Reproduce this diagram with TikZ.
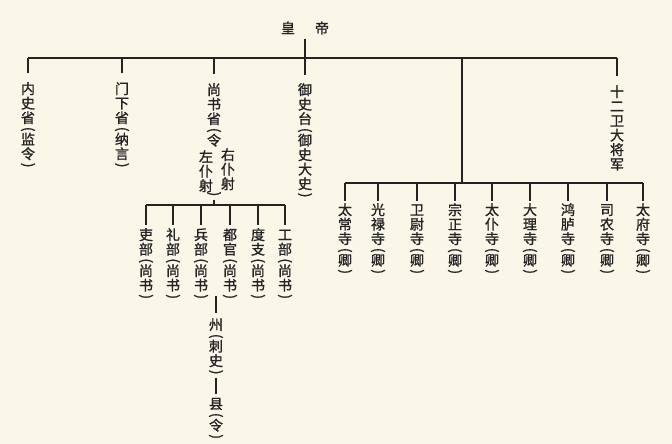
\documentclass[tikz,border=0pt]{standalone}
\usepackage{graphicx}
\usepackage{fontspec}
\newfontfamily\cjk{Noto Sans CJK SC}[FakeBold=1.2]
\definecolor{bg}{RGB}{250,247,233}
\definecolor{ink}{RGB}{35,35,35}
\makeatletter
\newcommand\vcol[1]{\vbox{\offinterlineskip\vc@loop#1\@nil}}
\def\vc@loop#1{\ifx#1\@nil\else\vc@one{#1}\expandafter\vc@loop\fi}
\def\vc@one#1{\if#1(\vc@par{#1}\else\if#1)\vc@par{#1}\else\vc@ch{#1}\fi\fi}
\def\vc@ch#1{\hbox to 14pt{\hss\vrule width 0pt height 11.8pt depth 2.7pt#1\hss}}
\def\vc@par#1{\hbox to 14pt{\hss\vbox to 7pt{\vss\hbox{\rotatebox{-90}{#1}}\vss}\hss}}
\makeatother
\tikzset{
  vt/.style={font=\cjk\fontsize{14}{14}\selectfont, inner sep=0pt, anchor=north, text=ink},
  conn/.style={draw=ink, line width=1.3pt},
}
\begin{document}
\begin{tikzpicture}[x=1pt,y=-1pt]
\useasboundingbox (0,0) rectangle (672,444);
\fill[bg] (0,0) rectangle (672,444);
\node[font=\cjk\fontsize{14}{14}\selectfont, text=ink, inner sep=0pt] (emp) at (305,28) {皇\hspace{20pt}帝};
\node[vt] (n1) at (28,82) {\vcol{内史省(监令)}};
\node[vt] (n2) at (122,82) {\vcol{门下省(纳言)}};
\node[vt] (n3) at (214,83) {\vcol{尚书省(令}};
\node[vt] (n3l) at (206,150) {\vcol{左仆射}};
\node[vt] (n3r) at (228,148) {\vcol{右仆射}};
\node[vt, anchor=center] (n3c) at (214,194) {\vcol{)}};
\node[vt] (n4) at (305,83) {\vcol{御史台(御史大史)}};
\node[vt] (n5) at (617,85) {\vcol{十二卫大将军}};
% ministries
\node[vt] (m1) at (146,228) {\vcol{吏部(尚书)}};
\node[vt] (m2) at (173,228) {\vcol{礼部(尚书)}};
\node[vt] (m3) at (201,228) {\vcol{兵部(尚书)}};
\node[vt] (m4) at (230,228) {\vcol{都官(尚书)}};
\node[vt] (m5) at (258,228) {\vcol{度支(尚书)}};
\node[vt] (m6) at (285,228) {\vcol{工部(尚书)}};
% temples
\node[vt] (t1) at (345,203) {\vcol{太常寺(卿)}};
\node[vt] (t2) at (378,203) {\vcol{光禄寺(卿)}};
\node[vt] (t3) at (417,203) {\vcol{卫尉寺(卿)}};
\node[vt] (t4) at (455,203) {\vcol{宗正寺(卿)}};
\node[vt] (t5) at (492,203) {\vcol{太仆寺(卿)}};
\node[vt] (t6) at (530,203) {\vcol{大理寺(卿)}};
\node[vt] (t7) at (568,203) {\vcol{鸿胪寺(卿)}};
\node[vt] (t8) at (607,203) {\vcol{司农寺(卿)}};
\node[vt] (t9) at (643,203) {\vcol{太府寺(卿)}};
% local
\node[vt] (zhou) at (216,318) {\vcol{州(刺史)}};
\node[vt] (xian) at (216,397) {\vcol{县(令)}};
% connectors
\coordinate (bar) at (0,58);
\coordinate (hub) at (462,58);
\coordinate (tbar) at (0,183);
\coordinate (mbar) at (0,205);
\coordinate (zs) at (216,296);
\draw[conn] (n1.north |- bar) -- (n5.north |- bar);
\foreach \n in {n1,n2,n3,n5} \draw[conn, shorten >=9pt] (\n.north |- bar) -- (\n.north);
\draw[conn, shorten <=4pt, shorten >=8pt] (emp.south) -- (n4.north);
\draw[conn] (hub) -- (hub |- tbar);
\draw[conn] (t1.north |- tbar) -- (t9.north |- tbar);
\foreach \n in {t1,t2,t3,t4,t5,t6,t7,t8,t9} \draw[conn, shorten >=2pt] (\n.north |- tbar) -- (\n.north);
\draw[conn, shorten <=2pt] (n3c.south) -- (n3c |- mbar);
\draw[conn] (m1.north |- mbar) -- (m6.north |- mbar);
\foreach \n in {m1,m2,m3,m4,m5,m6} \draw[conn, shorten >=3pt] (\n.north |- mbar) -- (\n.north);
\draw[conn, shorten >=5pt] (zs) -- (zhou.north);
\draw[conn, shorten <=2pt, shorten >=3pt] (zhou.south) -- (xian.north);
\end{tikzpicture}
\end{document}
